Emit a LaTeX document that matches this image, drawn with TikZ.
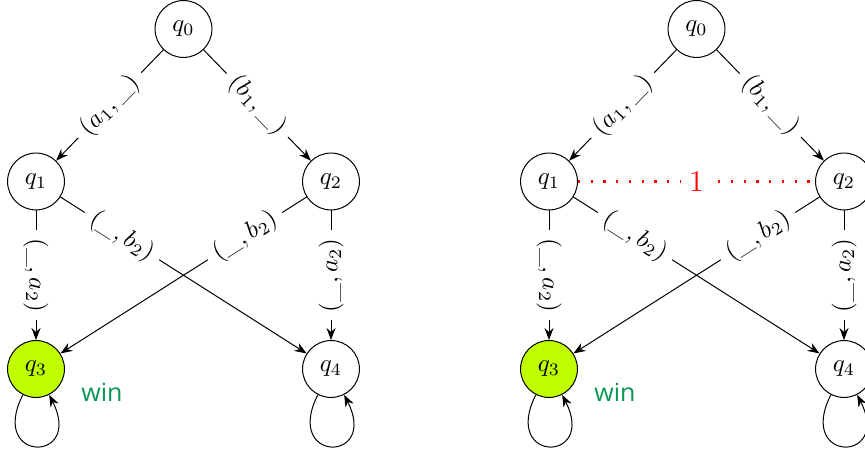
\documentclass[tikz,border=0pt]{standalone}
\usepackage{fontspec}
\newfontfamily\winfont{Open Sans}
\usetikzlibrary{arrows.meta}
\definecolor{wingreen}{RGB}{10,150,85}
\begin{document}
\begin{tikzpicture}[x=0.4pt,y=-0.4pt,>={Stealth}]
\tikzset{
  st/.style={circle, draw, minimum size=0.8cm, inner sep=0pt},
  lab/.style={fill=white},
  wintext/.style={text=wingreen, font=\winfont, anchor=base},
  loopedge/.style={out=-117, in=-63, looseness=7.5},
  hint/.style={red, line width=0.9pt, dash pattern=on 0.9pt off 4.2pt},
  hintlab/.style={fill=white, text=red, font=\fontsize{12}{14}\selectfont},
}
\useasboundingbox (0,0) rectangle (865,451);
\clip (0,0) rectangle (865,451);

% left graph
\node[st] (a0) at (183.5,29) {$q_0$};
\node[st] (a1) at (36,181.5) {$q_1$};
\node[st] (a2) at (331,181.5) {$q_2$};
\node[st, fill=lime] (a3) at (36,369) {$q_3$};
\node[st] (a4) at (331,369) {$q_4$};
\node[wintext] (aw) at (102,401.5) {win};

\draw[->] (a0) -- node[lab, sloped] {$(a_1,\_)$} (a1);
\draw[->] (a0) -- node[lab, sloped] {$(b_1,\_)$} (a2);
\draw[->] (a1) -- node[lab, rotate=-90] {$(\_,a_2)$} (a3);
\draw[->] (a2) -- node[lab, rotate=90] {$(\_,a_2)$} (a4);
\draw[->] (a1) -- node[lab, sloped, pos=0.25] {$(\_,b_2)$} (a4);
\draw[->] (a2) -- node[lab, sloped, pos=0.25] {$(\_,b_2)$} (a3);
\draw[->] (a3) to[loopedge] (a3);
\draw[->] (a4) to[loopedge] (a4);

% right graph
\node[st] (b0) at (696.5,29) {$q_0$};
\node[st] (b1) at (549,181.5) {$q_1$};
\node[st] (b2) at (844,181.5) {$q_2$};
\node[st, fill=lime] (b3) at (549,369) {$q_3$};
\node[st] (b4) at (844,369) {$q_4$};
\node[wintext] (bw) at (615,401.5) {win};

\draw[->] (b0) -- node[lab, sloped] {$(a_1,\_)$} (b1);
\draw[->] (b0) -- node[lab, sloped] {$(b_1,\_)$} (b2);
\draw[->] (b1) -- node[lab, rotate=-90] {$(\_,a_2)$} (b3);
\draw[->] (b2) -- node[lab, rotate=90] {$(\_,a_2)$} (b4);
\draw[->] (b1) -- node[lab, sloped, pos=0.25] {$(\_,b_2)$} (b4);
\draw[->] (b2) -- node[lab, sloped, pos=0.25] {$(\_,b_2)$} (b3);
\draw[->] (b3) to[loopedge] (b3);
\draw[->] (b4) to[loopedge] (b4);
\draw[hint] (b1) -- node[hintlab] {$1$} (b2);
\end{tikzpicture}
\end{document}
